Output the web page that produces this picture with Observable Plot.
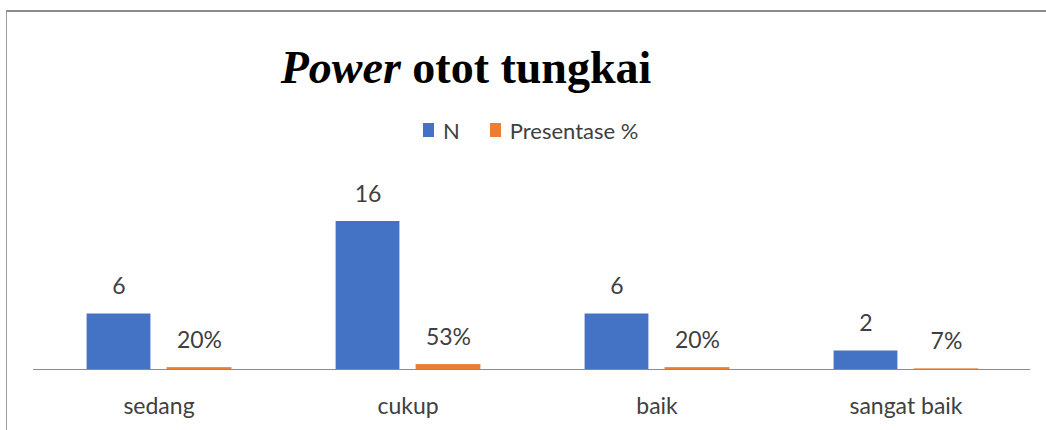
<!DOCTYPE html>
<html>
<head>
<meta charset="utf-8">
<script src="https://cdn.jsdelivr.net/npm/d3@7"></script>
<script src="https://cdn.jsdelivr.net/npm/@observablehq/plot@0.6"></script>
<style>
  html, body { margin: 0; padding: 0; background: #fff; }
  body { width: 1046px; height: 430px; position: relative; overflow: hidden; font-family: Lato, "Open Sans", sans-serif; }
  #frame { position: absolute; left: 6px; top: 10px; width: 1100px; height: 500px; border-top: 2px solid #8a8a8a; border-left: 1px solid #9a9a9a; }
  #title { position: absolute; left: 0; width: 932px; top: 45px; text-align: center; font-family: "Liberation Serif", "Times New Roman", serif; font-weight: bold; font-size: 46px; line-height: 1; color: #000; white-space: nowrap; }
  #title i { font-style: italic; }
  #legend { position: absolute; left: 423px; top: 118px; height: 24px; display: flex; align-items: center; font-size: 22px; color: #404040; white-space: nowrap; }
  .sw { display: inline-block; width: 11px; height: 14px; margin-right: 9px; }
  .item { display: flex; align-items: center; margin-right: 30px; }
  #chart { position: absolute; left: 0; top: 150px; }
</style>
</head>
<body>
<div id="frame"></div>
<div id="title"></div>
<div id="legend"></div>
<div id="chart"></div>
<script>
const categories = ["sedang", "cukup", "baik", "sangat baik"];
const nValues = [6, 16, 6, 2];
const pctValues = [0.20, 0.53, 0.20, 0.07];
const pctLabels = ["20%", "53%", "20%", "7%"];
const seriesNames = ["N", "Presentase %"];
const seriesColors = ["#4472C4", "#ED7D31"];
const titleItalic = "Power";
const titleRest = " otot tungkai";

document.getElementById("title").innerHTML = `<i>${titleItalic}</i>${titleRest}`;
const legend = document.getElementById("legend");
seriesNames.forEach((name, i) => {
  const item = document.createElement("span");
  item.className = "item";
  const sw = document.createElement("span");
  sw.className = "sw";
  sw.style.background = seriesColors[i];
  item.appendChild(sw);
  item.appendChild(document.createTextNode(name));
  legend.appendChild(item);
});

const nData = categories.map((c, i) => ({category: c, value: nValues[i], label: String(nValues[i])}));
const pData = categories.map((c, i) => ({category: c, value: pctValues[i], label: pctLabels[i]}));

const textColor = "#404040";
const chart = Plot.plot({
  width: 1046,
  height: 280,
  marginLeft: 33,
  marginRight: 16,
  marginTop: 34,
  marginBottom: 61,
  style: {fontFamily: "Lato, 'Open Sans', sans-serif", background: "transparent", overflow: "visible"},
  x: {domain: categories, padding: 0, label: null},
  y: {domain: [0, 20], axis: null},
  marks: [
    Plot.barY(nData, {x: "category", y: "value", fill: seriesColors[0], insetLeft: 52.6, insetRight: 132.6}),
    Plot.barY(pData, {x: "category", y: "value", fill: seriesColors[1], insetLeft: 132.6, insetRight: 51.6}),
    Plot.text(nData, {x: "category", y: "value", text: "label", dx: -40, dy: -27, lineAnchor: "middle", fontSize: 23, fill: textColor}),
    Plot.text(pData, {x: "category", y: "value", text: "label", dx: 40.5, dy: -27, lineAnchor: "middle", fontSize: 23, fill: textColor}),
    Plot.ruleY([0], {stroke: "#8c8c8c", strokeWidth: 1}),
    Plot.axisX({tickSize: 0, tickPadding: 28, fontSize: 23, fill: textColor, label: null})
  ]
});
document.getElementById("chart").appendChild(chart);
</script>
</body>
</html>
